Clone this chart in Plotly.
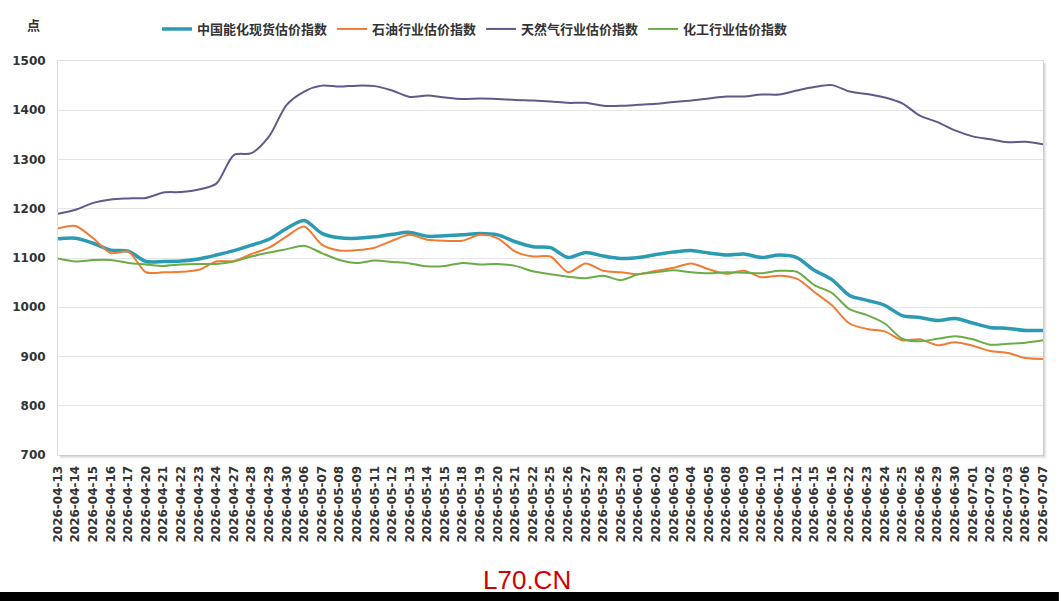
import plotly.graph_objects as go

dates = [
    "2026-04-13", "2026-04-14", "2026-04-15", "2026-04-16", "2026-04-17", "2026-04-20",
    "2026-04-21", "2026-04-22", "2026-04-23", "2026-04-24", "2026-04-27", "2026-04-28",
    "2026-04-29", "2026-04-30", "2026-05-06", "2026-05-07", "2026-05-08", "2026-05-09",
    "2026-05-11", "2026-05-12", "2026-05-13", "2026-05-14", "2026-05-15", "2026-05-18",
    "2026-05-19", "2026-05-20", "2026-05-21", "2026-05-22", "2026-05-25", "2026-05-26",
    "2026-05-27", "2026-05-28", "2026-05-29", "2026-06-01", "2026-06-02", "2026-06-03",
    "2026-06-04", "2026-06-05", "2026-06-08", "2026-06-09", "2026-06-10", "2026-06-11",
    "2026-06-12", "2026-06-15", "2026-06-16", "2026-06-22", "2026-06-23", "2026-06-24",
    "2026-06-25", "2026-06-26", "2026-06-29", "2026-06-30", "2026-07-01", "2026-07-02",
    "2026-07-03", "2026-07-06", "2026-07-07",
]

energy = [
    1139, 1140, 1130, 1116, 1114, 1093, 1093, 1094, 1098, 1106, 1115, 1126, 1138, 1160,
    1176, 1150, 1141, 1140, 1143, 1148, 1152, 1144, 1145, 1147, 1150, 1147, 1133, 1123,
    1121, 1101, 1111, 1104, 1099, 1101, 1107, 1112, 1115, 1110, 1106, 1108, 1101, 1106,
    1101, 1075, 1056, 1024, 1014, 1004, 983, 979, 973, 977, 968, 959, 957, 953, 953,
]

oil = [
    1160, 1165, 1140, 1110, 1113, 1071, 1071, 1072, 1076, 1093, 1094, 1108, 1121, 1144,
    1164, 1127, 1115, 1116, 1121, 1135, 1147, 1137, 1135, 1135, 1147, 1140, 1113, 1103,
    1103, 1071, 1089, 1074, 1071, 1067, 1074, 1080, 1089, 1077, 1068, 1074, 1061, 1064,
    1058, 1031, 1004, 967, 956, 951, 933, 935, 923, 929, 922, 911, 907, 897, 895,
]

gas = [
    1190, 1198, 1212, 1219, 1221, 1222, 1233, 1234, 1239, 1251, 1309, 1313, 1347, 1411,
    1438, 1450, 1448, 1450, 1449, 1440, 1427, 1430, 1426, 1423, 1424, 1423, 1421, 1420,
    1418, 1415, 1415, 1409, 1409, 1411, 1413, 1417, 1420, 1424, 1428, 1428, 1432, 1432,
    1440, 1447, 1451, 1438, 1433, 1426, 1414, 1389, 1376, 1359, 1347, 1341, 1335, 1336,
    1331,
]

chem = [
    1099, 1093, 1096, 1096, 1090, 1087, 1084, 1087, 1088, 1088, 1093, 1103, 1111, 1118,
    1125, 1110, 1096, 1090, 1095, 1092, 1089, 1083, 1084, 1090, 1087, 1088, 1084, 1073,
    1067, 1062, 1059, 1064, 1055, 1067, 1071, 1075, 1071, 1069, 1071, 1070, 1069, 1074,
    1072, 1045, 1029, 996, 984, 967, 936, 931, 936, 941, 935, 924, 926, 928, 933,
]

series_names = ["中国能化现货估价指数", "石油行业估价指数", "天然气行业估价指数", "化工行业估价指数"]
series_values = [energy, oil, gas, chem]
series_colors = ["#2b9ab3", "#f07c34", "#5c5b8a", "#6aac46"]
series_widths = [3.5, 2, 2, 2]

y_ticks = [700, 800, 900, 1000, 1100, 1200, 1300, 1400, 1500]

W, H = 1061, 601
ML, MR, MT, MB = 58, 11, 61, 146
PW, PH = W - ML - MR, H - MT - MB


def px_x(px):
    return (px - ML) / PW


def px_y(py):
    return (H - MB - py) / PH


fig = go.Figure()
for name, vals, color, w in zip(series_names, series_values, series_colors, series_widths):
    fig.add_trace(go.Scatter(
        x=dates, y=vals, name=name, mode="lines",
        line=dict(color=color, width=w, shape="spline", smoothing=0.8),
    ))

fig.update_layout(
    width=W, height=H,
    margin=dict(l=ML, r=MR, t=MT, b=MB),
    paper_bgcolor="white", plot_bgcolor="white",
    font=dict(family="DejaVu Sans", color="#333333"),
    showlegend=True,
    legend=dict(
        orientation="h", x=px_x(478), xanchor="center", y=px_y(29), yanchor="middle",
        font=dict(size=13, family="Noto Sans CJK SC", color="#333333", weight="bold"),
        bgcolor="rgba(0,0,0,0)", itemwidth=30, tracegroupgap=0,
    ),
    xaxis=dict(
        type="category", range=[0, len(dates) - 1],
        tickangle=-90, showgrid=False, ticks="",
        tickfont=dict(size=12, family="DejaVu Sans", color="#333333", weight="bold"),
        showline=True, linecolor="#dddddd", mirror=True, zeroline=False,
        ticklabelstandoff=5,
    ),
    yaxis=dict(
        range=[700, 1500], tickvals=y_ticks, showgrid=True, gridcolor="#e6e6e6", gridwidth=1,
        tickfont=dict(size=12, family="DejaVu Sans", color="#333333", weight="bold"),
        showline=True, linecolor="#dddddd", mirror=True, zeroline=False, ticks="",
        ticklabelstandoff=9,
    ),
)

# plot area shadow (right and bottom)
shadow_alphas = [0.35, 0.2, 0.1]
shapes = []
for k, a in enumerate(shadow_alphas):
    shapes.append(dict(type="line", xref="paper", yref="paper",
                       x0=px_x(ML + 2), x1=px_x(W - MR + 1 + k), y0=px_y(H - MB + 1 + k), y1=px_y(H - MB + 1 + k),
                       line=dict(color=f"rgba(120,120,120,{a})", width=1)))
    shapes.append(dict(type="line", xref="paper", yref="paper",
                       x0=px_x(W - MR + 1 + k), x1=px_x(W - MR + 1 + k), y0=px_y(MT + 2), y1=px_y(H - MB + 1 + k),
                       line=dict(color=f"rgba(120,120,120,{a})", width=1)))
# black band at bottom
shapes.append(dict(type="rect", xref="paper", yref="paper",
                   x0=px_x(-5), x1=px_x(W + 5), y0=px_y(H + 5), y1=px_y(592),
                   fillcolor="black", line=dict(width=0), layer="above"))
fig.update_layout(shapes=shapes)

fig.add_annotation(text="点", xref="paper", yref="paper", x=px_x(33), y=px_y(25),
                   xanchor="center", yanchor="middle",
                   showarrow=False, font=dict(size=13, family="Noto Sans CJK SC", color="#333333", weight="bold"))
fig.add_annotation(text="L70.CN", xref="paper", yref="paper", x=px_x(530), y=px_y(580),
                   xanchor="center", yanchor="middle",
                   showarrow=False, font=dict(size=26, family="Liberation Sans", color="#d40000"))

fig.write_html("out.html")
